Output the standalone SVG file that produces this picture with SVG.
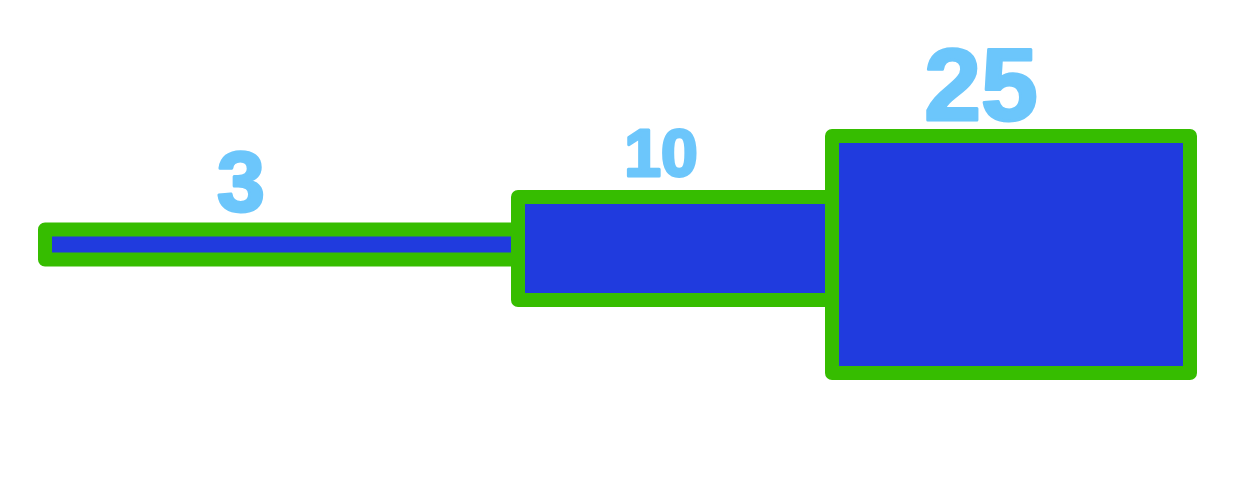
<svg xmlns="http://www.w3.org/2000/svg" width="1253" height="493" viewBox="0 0 1253 493">
<style>
.box{fill:#203bde;stroke:#36bd00;stroke-width:14;stroke-linejoin:round}
.lbl{font-family:"Liberation Sans",Arial,sans-serif;font-weight:bold;fill:#6cc6fb;stroke:#6cc6fb;stroke-width:3;stroke-linejoin:round;text-anchor:middle}
</style>
<rect width="1253" height="493" fill="#ffffff"/>
<g id="node-3">
<rect class="box" x="45" y="229.5" width="473" height="30"/>
<text class="lbl" x="241" y="211" font-size="86">3</text>
</g>
<g id="node-10">
<rect class="box" x="518" y="197" width="314" height="103"/>
<text class="lbl" x="661" y="176" font-size="66">10</text>
</g>
<g id="node-25">
<rect class="box" x="832" y="136" width="358" height="237"/>
<text class="lbl" x="981" y="120" font-size="102">25</text>
</g>
<g id="connectors"></g>
</svg>
